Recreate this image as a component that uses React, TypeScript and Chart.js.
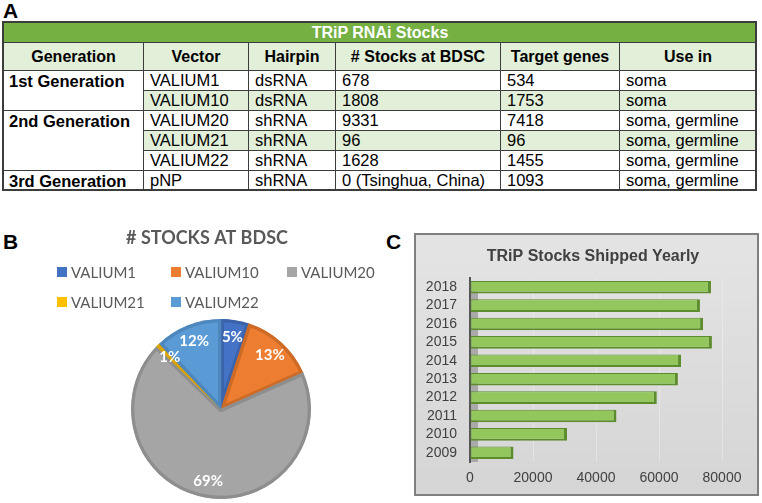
import React, { useEffect, useRef } from "react";
import { Chart, registerables } from "chart.js";

Chart.register(...registerables);

// ---------- Table data ----------
const tableTitle = "TRiP RNAi Stocks";
const tableHeaders = ["Generation", "Vector", "Hairpin", "# Stocks at BDSC", "Target genes", "Use in"];
const generations = ["1st Generation", "2nd Generation", "3rd Generation"];
const generationSpans = [2, 3, 1];
const vectors = ["VALIUM1", "VALIUM10", "VALIUM20", "VALIUM21", "VALIUM22", "pNP"];
const hairpins = ["dsRNA", "dsRNA", "shRNA", "shRNA", "shRNA", "shRNA"];
const stocksAtBdsc = ["678", "1808", "9331", "96", "1628", "0 (Tsinghua, China)"];
const targetGenes = ["534", "1753", "7418", "96", "1455", "1093"];
const useIn = ["soma", "soma", "soma, germline", "soma, germline", "soma, germline", "soma, germline"];

// ---------- Pie data ----------
const pieTitle = "# STOCKS AT BDSC";
const pieLabels = ["VALIUM1", "VALIUM10", "VALIUM20", "VALIUM21", "VALIUM22"];
const pieValues = [678, 1808, 9331, 96, 1628];

// ---------- Bar data ----------
const barTitle = "TRiP Stocks Shipped Yearly";
const years = ["2018", "2017", "2016", "2015", "2014", "2013", "2012", "2011", "2010", "2009"];
const shipped = [76500, 73000, 74000, 76800, 67000, 66000, 59300, 46500, 30800, 13800];
const xTickValues = [0, 20000, 40000, 60000, 80000];

// ---------- Styles ----------
const FONT = '"Liberation Sans", Arial, sans-serif';
const pieColors = ["#4472c4", "#ed7d31", "#a5a5a5", "#ffc000", "#5b9bd5"];
const pieBorders = ["#3b63ab", "#cc6a26", "#8e8e8e", "#d9a400", "#4d87bd"];
const shadedRows = [false, true, false, true, false, false];
const colEdges = [3, 143, 248, 335, 500, 619, 756];
const rowEdges = [70, 90, 110, 130, 150, 170, 190];
const LIGHT_GREEN = "#e2efd9";
const GREEN = "#75b043";
const LINE = "#3c3c3c";

const pieDecor = {
  id: "pieDecor",
  afterDraw(chart: any) {
    const ctx = chart.ctx;
    ctx.save();
    ctx.textBaseline = "middle";
    ctx.fillStyle = "#595959";
    ctx.font = "bold 18px Lato";
    ctx.textAlign = "center";
    ctx.fillText(pieTitle, 207, 13);

    const cols = [57, 171, 287];
    const rows = [47, 77];
    ctx.font = "15px Lato";
    ctx.textAlign = "left";
    pieLabels.forEach((lab, i) => {
      const x = cols[i % 3];
      const y = rows[Math.floor(i / 3)];
      ctx.fillStyle = pieColors[i];
      ctx.fillRect(x, y - 5, 10, 10);
      ctx.fillStyle = "#595959";
      ctx.fillText(lab, x + 14, y + 1);
    });

    const total = pieValues.reduce((a, b) => a + b, 0);
    const meta = chart.getDatasetMeta(0);
    ctx.fillStyle = "#ffffff";
    ctx.font = "bold 15px Lato";
    ctx.textAlign = "center";
    meta.data.forEach((arc: any, i: number) => {
      const p = arc.getProps(["x", "y", "startAngle", "endAngle", "outerRadius"], true);
      const a = (p.startAngle + p.endAngle) / 2;
      const r = p.outerRadius * 0.81;
      const pct = Math.round((pieValues[i] / total) * 100) + "%";
      ctx.fillText(pct, p.x + Math.cos(a) * r, p.y + Math.sin(a) * r);
    });
    ctx.restore();
  },
};

const barDecor = {
  id: "barDecor",
  beforeDraw(chart: any) {
    const { ctx, width, height } = chart;
    ctx.save();
    const g = ctx.createLinearGradient(0, 0, 0, height);
    g.addColorStop(0, "#e4e4e4");
    g.addColorStop(1, "#d5d5d5");
    ctx.fillStyle = g;
    ctx.fillRect(0, 0, width, height);
    ctx.strokeStyle = "#7f7f7f";
    ctx.lineWidth = 2;
    ctx.strokeRect(1, 1, width - 2, height - 2);
    ctx.fillStyle = "#404040";
    ctx.font = `bold 16px ${FONT}`;
    ctx.textAlign = "center";
    ctx.textBaseline = "middle";
    ctx.fillText(barTitle, 179, 24);
    ctx.restore();
  },
  beforeDatasetsDraw(chart: any) {
    const { ctx, chartArea: a } = chart;
    ctx.save();
    ctx.fillStyle = "#a9a9a9";
    ctx.fillRect(a.left + 1, a.top + 4, 7, a.bottom - a.top - 4);
    ctx.restore();
  },
};

function Cell(props: {
  x0: number; x1: number; y0: number; y1: number; bg?: string; bold?: boolean;
  center?: boolean; size?: number; color?: string; children: React.ReactNode; pad?: number;
}) {
  const { x0, x1, y0, y1, bg, bold, center, size, color, children, pad } = props;
  return (
    <div
      style={{
        position: "absolute",
        left: x0,
        top: y0,
        width: x1 - x0,
        height: y1 - y0,
        boxSizing: "border-box",
        borderLeft: `1px solid ${LINE}`,
        borderTop: `1px solid ${LINE}`,
        background: bg || "#fff",
        display: "flex",
        alignItems: "center",
        justifyContent: center ? "center" : "flex-start",
        paddingLeft: center ? 0 : pad ?? 6,
        fontFamily: FONT,
        fontWeight: bold ? "bold" : "normal",
        fontSize: size || 16.5,
        color: color || "#000",
        whiteSpace: "nowrap",
        lineHeight: 1,
        overflow: "hidden",
      }}
    >
      {children}
    </div>
  );
}

export default function App() {
  const pieRef = useRef<HTMLCanvasElement>(null);
  const barRef = useRef<HTMLCanvasElement>(null);

  useEffect(() => {
    const pie = new Chart(pieRef.current as HTMLCanvasElement, {
      type: "pie",
      data: {
        labels: pieLabels,
        datasets: [
          {
            data: pieValues,
            backgroundColor: pieColors,
            borderColor: pieBorders,
            borderWidth: 3,
            borderAlign: "inner",
          } as any,
        ],
      },
      options: {
        animation: false,
        responsive: false,
        layout: { padding: { left: 121, right: 79, top: 94, bottom: 4 } },
        plugins: { legend: { display: false }, title: { display: false }, tooltip: { enabled: false } },
      },
      plugins: [pieDecor],
    });

    const bar = new Chart(barRef.current as HTMLCanvasElement, {
      type: "bar",
      data: {
        labels: years,
        datasets: [
          {
            data: shipped,
            backgroundColor: "#93c75d",
            borderColor: "#5d8c2e",
            borderWidth: { top: 1, left: 1, right: 3, bottom: 2 },
            borderSkipped: false,
            barPercentage: 0.76,
            categoryPercentage: 0.9,
          } as any,
        ],
      },
      options: {
        indexAxis: "y",
        animation: false,
        responsive: false,
        layout: { padding: { top: 45, right: 37, left: 0, bottom: 0 } },
        plugins: { legend: { display: false }, title: { display: false }, tooltip: { enabled: false } },
        scales: {
          x: {
            min: xTickValues[0],
            max: xTickValues[xTickValues.length - 1],
            afterBuildTicks: (s: any) => {
              s.ticks = xTickValues.map((v) => ({ value: v }));
            },
            ticks: {
              color: "#404040",
              font: { family: FONT, size: 14 },
              padding: 8,
              maxRotation: 0,
              autoSkip: false,
              callback: (v: any) => String(v),
            },
            grid: { display: true, color: "rgba(255,255,255,0.3)", drawTicks: false },
            border: { display: false },
            afterFit: (s: any) => {
              s.height = 34;
            },
          },
          y: {
            ticks: { color: "#404040", font: { family: FONT, size: 14 }, padding: 13, autoSkip: false },
            grid: { display: false, drawTicks: false },
            border: { display: true, color: "#555555", width: 2 },
            afterFit: (s: any) => {
              s.width = 56;
            },
          },
        },
      } as any,
      plugins: [barDecor],
    });

    return () => {
      pie.destroy();
      bar.destroy();
    };
  }, []);

  const genCells: React.ReactNode[] = [];
  let r = 0;
  generations.forEach((g, gi) => {
    const span = generationSpans[gi];
    genCells.push(
      <Cell key={"g" + gi} x0={colEdges[0]} x1={colEdges[1]} y0={rowEdges[r]} y1={rowEdges[r + span]} bold pad={5}>
        <span style={{ position: "absolute", top: 2, left: 5, lineHeight: "17px" }}>{g}</span>
      </Cell>
    );
    r += span;
  });

  const dataCols = [vectors, hairpins, stocksAtBdsc, targetGenes, useIn];

  return (
    <div style={{ position: "fixed", left: 0, top: 0, width: 762, height: 503, background: "#fff", overflow: "hidden" }}>
      <div style={{ position: "absolute", left: 3, top: 0, fontFamily: FONT, fontWeight: "bold", fontSize: 21, lineHeight: "21px" }}>A</div>
      <div style={{ position: "absolute", left: 3, top: 231, fontFamily: FONT, fontWeight: "bold", fontSize: 21, lineHeight: "21px" }}>B</div>
      <div style={{ position: "absolute", left: 386, top: 231, fontFamily: FONT, fontWeight: "bold", fontSize: 21, lineHeight: "21px" }}>C</div>

      <Cell x0={colEdges[0]} x1={colEdges[6]} y0={22} y1={42} bg={GREEN} bold center size={16} color="#fff">
        {tableTitle}
      </Cell>
      {tableHeaders.map((h, i) => (
        <Cell key={"h" + i} x0={colEdges[i]} x1={colEdges[i + 1]} y0={42} y1={70} bg={LIGHT_GREEN} bold center size={16}>
          {h}
        </Cell>
      ))}
      {genCells}
      {vectors.map((_, ri) =>
        dataCols.map((col, ci) => (
          <Cell
            key={`d${ri}-${ci}`}
            x0={colEdges[ci + 1]}
            x1={colEdges[ci + 2]}
            y0={rowEdges[ri]}
            y1={rowEdges[ri + 1]}
            bg={shadedRows[ri] ? LIGHT_GREEN : "#fff"}
          >
            {col[ri]}
          </Cell>
        ))
      )}
      <div
        style={{
          position: "absolute",
          left: colEdges[0] - 1,
          top: 21,
          width: colEdges[6] - colEdges[0] + 2,
          height: rowEdges[6] - 21 + 1,
          boxSizing: "border-box",
          border: `2px solid ${LINE}`,
          pointerEvents: "none",
        }}
      />

      <canvas ref={pieRef} width={400} height={278} style={{ position: "absolute", left: 0, top: 225, width: 400, height: 278 }} />

      <canvas ref={barRef} width={345} height={263} style={{ position: "absolute", left: 414, top: 233, width: 345, height: 263 }} />
    </div>
  );
}
